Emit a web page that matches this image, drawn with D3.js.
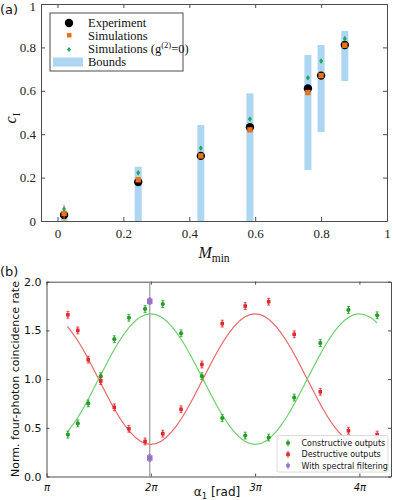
<!DOCTYPE html>
<html><head><meta charset="utf-8">
<script src="https://cdn.jsdelivr.net/npm/d3@7"></script>
<style>html,body{margin:0;padding:0;background:#fff;}svg{display:block;}</style>
</head><body>
<svg id="c" width="393" height="500"></svg>
<script>
// ---------- Panel (a) data ----------
const mMin = [0.02, 0.245, 0.435, 0.584, 0.76, 0.80, 0.872];
const experiment = [0.028, 0.18, 0.30, 0.432, 0.611, 0.67, 0.811];
const experimentErr = [0.012, 0.012, 0.012, 0.012, 0.012, 0.012, 0.012];
const simulations = [0.035, 0.19, 0.30, 0.42, 0.592, 0.67, 0.81];
const simulationsErr = [0.04, 0.01, 0.01, 0.01, 0.01, 0.01, 0.01];
const simulationsG0 = [0.055, 0.222, 0.336, 0.47, 0.66, 0.737, 0.84];
const simulationsG0Err = [0.01, 0.01, 0.01, 0.01, 0.01, 0.01, 0.01];
const boundLow = [0, 0, 0, 0, 0.235, 0.41, 0.645];
const boundHigh = [0.04, 0.25, 0.442, 0.588, 0.765, 0.811, 0.876];
const aXTicks = [0, 0.2, 0.4, 0.6, 0.8, 1];
const aYTicks = [0, 0.2, 0.4, 0.6, 0.8, 1];

// ---------- Panel (b) data (alpha in units of pi) ----------
const alphaPts = [1.205, 1.30, 1.40, 1.52, 1.65, 1.79, 1.945, 2.115, 2.29, 2.49, 2.685, 2.905, 3.13, 3.375, 3.625, 3.895, 4.17];
const constructive = [0.43, 0.545, 0.75, 1.03, 1.41, 1.63, 1.72, 1.77, 1.47, 1.03, 0.60, 0.42, 0.40, 0.81, 1.37, 1.71, 1.655];
const destructive = [1.66, 1.50, 1.20, 0.98, 0.71, 0.49, 0.36, 0.44, 0.69, 1.15, 1.57, 1.75, 1.795, 1.46, 0.87, 0.47, 0.43];
const ptErr = 0.035;
const filteredAlpha = [1.99, 1.99];
const filtered = [1.80, 0.19];
const fitAlpha = [1.2,1.3,1.4,1.5,1.6,1.7,1.8,1.9,2.0,2.1,2.2,2.3,2.4,2.5,2.6,2.7,2.8,2.9,3.0,3.1,3.2,3.3,3.4,3.5,3.6,3.7,3.8,3.9,4.0,4.1,4.17];
const fitConstructive = [0.458,0.606,0.793,1.000,1.207,1.394,1.542,1.637,1.670,1.637,1.542,1.394,1.207,1.000,0.793,0.606,0.458,0.363,0.330,0.363,0.458,0.606,0.793,1.000,1.207,1.394,1.542,1.637,1.670,1.637,1.577];
const fitDestructive = [1.542,1.394,1.207,1.000,0.793,0.606,0.458,0.363,0.330,0.363,0.458,0.606,0.793,1.000,1.207,1.394,1.542,1.637,1.670,1.637,1.542,1.394,1.207,1.000,0.793,0.606,0.458,0.363,0.330,0.363,0.423];
const bXTicks = [1, 2, 3, 4];
const bXTickLabels = ["π", "2π", "3π", "4π"];
const bYTicks = [0, 0.5, 1.0, 1.5, 2.0];

const svg = d3.select("#c");
const SERIF = "'Liberation Serif', 'Times New Roman', serif";
const SANS = "'DejaVu Sans', sans-serif";

// ================= Panel (a) =================
const xA = d3.scaleLinear().domain([-0.05, 1]).range([41, 387]);
const yA = d3.scaleLinear().domain([0, 1]).range([221, 4]);
const gA = svg.append("g");
const axisColA = "#4d4d4d";

function styleAxisA(g, labels) {
  g.select(".domain").attr("stroke", axisColA).attr("stroke-width", 1);
  g.selectAll(".tick line").attr("stroke", axisColA);
  g.selectAll(".tick text").attr("font-family", SERIF).attr("font-size", 13).attr("fill", "#222");
  if (!labels) g.selectAll(".tick text").remove();
}
gA.append("g").attr("transform", "translate(0,221)")
  .call(d3.axisBottom(xA).tickValues(aXTicks).tickFormat(d3.format("~g")).tickSizeInner(-4).tickSizeOuter(0).tickPadding(8))
  .call(g => styleAxisA(g, true));
gA.append("g").attr("transform", "translate(0,4)")
  .call(d3.axisTop(xA).tickValues(aXTicks).tickSizeInner(-4).tickSizeOuter(0))
  .call(g => styleAxisA(g, false));
gA.append("g").attr("transform", "translate(41,0)")
  .call(d3.axisLeft(yA).tickValues(aYTicks).tickFormat(d3.format("~g")).tickSizeInner(-4).tickSizeOuter(0).tickPadding(5))
  .call(g => styleAxisA(g, true))
  .call(g => g.selectAll(".tick text").filter(d => d === 1).attr("y", 2.5));
gA.append("g").attr("transform", "translate(387,0)")
  .call(d3.axisRight(yA).tickValues(aYTicks).tickSizeInner(-4).tickSizeOuter(0))
  .call(g => styleAxisA(g, false));

const dataA = mMin.map((m, i) => ({m, e: experiment[i], ee: experimentErr[i], s: simulations[i], se: simulationsErr[i], g: simulationsG0[i], ge: simulationsG0Err[i], lo: boundLow[i], hi: boundHigh[i]}));
const blue = "#acd6f2", orange = "#e8731c", greenA = "#21a85a";
const barW = 7;
gA.append("g").selectAll("rect").data(dataA).join("rect")
  .attr("x", d => xA(d.m) - barW / 2).attr("width", barW)
  .attr("y", d => yA(d.hi)).attr("height", d => Math.max(yA(d.lo) - yA(d.hi), 0))
  .attr("fill", blue);

function errBars(g, data, xf, yv, ev, col, w) {
  g.append("g").selectAll("line").data(data).join("line")
    .attr("x1", d => xf(d)).attr("x2", d => xf(d))
    .attr("y1", d => yA(yv(d) - ev(d))).attr("y2", d => yA(yv(d) + ev(d)))
    .attr("stroke", col).attr("stroke-width", w);
}
errBars(gA, dataA, d => xA(d.m), d => d.e, d => d.ee, "#000", 1);
gA.append("g").selectAll("circle").data(dataA).join("circle")
  .attr("cx", d => xA(d.m)).attr("cy", d => yA(d.e)).attr("r", 4.2).attr("fill", "#000");
errBars(gA, dataA, d => xA(d.m), d => d.s, d => d.se, orange, 1);
gA.append("g").selectAll("rect").data(dataA).join("rect")
  .attr("x", d => xA(d.m) - 2.7).attr("y", d => yA(d.s) - 2.7).attr("width", 5.4).attr("height", 5.4).attr("fill", orange);
errBars(gA, dataA, d => xA(d.m), d => d.g, d => d.ge, greenA, 1);
gA.append("g").selectAll("path").data(dataA).join("path")
  .attr("d", d => { const x = xA(d.m), y = yA(d.g); return `M${x},${y-2.6}L${x+2},${y}L${x},${y+2.6}L${x-2},${y}Z`; })
  .attr("fill", greenA);

// Legend (a)
const lgA = gA.append("g");
lgA.append("rect").attr("x", 50).attr("y", 13).attr("width", 133).attr("height", 58)
  .attr("fill", "#fff").attr("stroke", axisColA).attr("stroke-width", 1);
lgA.append("circle").attr("cx", 69).attr("cy", 23).attr("r", 4.2).attr("fill", "#000");
lgA.append("rect").attr("x", 67).attr("y", 33).attr("width", 4.5).attr("height", 4.5).attr("fill", orange);
lgA.append("path").attr("d", "M69,47L71,49.5L69,52L67,49.5Z").attr("fill", greenA);
lgA.append("rect").attr("x", 53).attr("y", 57.5).attr("width", 30).attr("height", 9).attr("fill", blue);
const lgTxt = (y) => lgA.append("text").attr("x", 88).attr("y", y).attr("font-family", SERIF).attr("font-size", 12.5).attr("fill", "#111");
lgTxt(27).text("Experiment");
lgTxt(39.5).text("Simulations");
{
  const t = lgTxt(53);
  t.append("tspan").text("Simulations (g");
  t.append("tspan").attr("font-size", 8.5).attr("dy", -5).text("(2)");
  t.append("tspan").attr("dy", 5).text("=0)");
}
lgTxt(66).text("Bounds");

// Axis labels (a)
{
  const t = gA.append("text").attr("transform", "translate(16,118) rotate(-90)")
    .attr("text-anchor", "middle").attr("font-family", SERIF).attr("fill", "#111");
  t.append("tspan").attr("font-style", "italic").attr("font-size", 16).text("c");
  t.append("tspan").attr("font-size", 11).attr("dy", 4).text("I");
}
{
  const t = gA.append("text").attr("x", 214).attr("y", 258)
    .attr("text-anchor", "middle").attr("font-family", SERIF).attr("fill", "#111");
  t.append("tspan").attr("font-style", "italic").attr("font-size", 16).text("M");
  t.append("tspan").attr("font-size", 11.5).attr("dy", 4).text("min");
}
svg.append("text").attr("x", 0).attr("y", 14).attr("font-family", SANS).attr("font-size", 13).attr("fill", "#111").text("(a)");

// ================= Panel (b) =================
const xB = d3.scaleLinear().domain([1, 4.303]).range([46.5, 391]);
const yB = d3.scaleLinear().domain([0, 2]).range([476.5, 281.7]);
const gB = svg.append("g");
const spineCol = "#3a3a3a";
function styleAxisB(g, labels) {
  g.select(".domain").attr("stroke", spineCol).attr("stroke-width", 0.9);
  g.selectAll(".tick line").attr("stroke", spineCol).attr("stroke-width", 0.9);
  g.selectAll(".tick text").attr("font-family", SANS).attr("font-size", 11).attr("fill", "#111");
  if (!labels) g.selectAll(".tick text").remove();
}
gB.append("g").attr("transform", "translate(0,476.5)")
  .call(d3.axisBottom(xB).tickValues(bXTicks).tickFormat((d, i) => bXTickLabels[i]).tickSizeInner(-3).tickSizeOuter(0).tickPadding(7))
  .call(g => styleAxisB(g, true))
  .call(g => g.selectAll(".tick text").attr("font-size", 10).attr("font-style", "italic"));
gB.append("g").attr("transform", "translate(0,281.7)")
  .call(d3.axisTop(xB).tickValues(bXTicks).tickSizeInner(-3).tickSizeOuter(0))
  .call(g => styleAxisB(g, false));
gB.append("g").attr("transform", "translate(46.5,0)")
  .call(d3.axisLeft(yB).tickValues(bYTicks).tickFormat(d3.format(".1f")).tickSizeInner(-3).tickSizeOuter(0).tickPadding(5))
  .call(g => styleAxisB(g, true));
gB.append("g").attr("transform", "translate(391,0)")
  .call(d3.axisRight(yB).tickValues(bYTicks).tickSizeInner(-3).tickSizeOuter(0))
  .call(g => styleAxisB(g, false));

// vertical reference line
gB.append("line").attr("x1", xB(filteredAlpha[0])).attr("x2", xB(filteredAlpha[0]))
  .attr("y1", yB(0)).attr("y2", yB(2)).attr("stroke", "#9a9a9a").attr("stroke-width", 1.2);

const greenLine = "#6ccf6c", redLine = "#ee6666";
const greenPt = "#22a022", redPt = "#e0282e", purple = "#9a6fcf";
const line = (ys) => d3.line().x((d, i) => xB(fitAlpha[i])).y(d => yB(d)).curve(d3.curveNatural)(ys);
gB.append("path").attr("d", line(fitDestructive)).attr("fill", "none").attr("stroke", redLine).attr("stroke-width", 1.2);
gB.append("path").attr("d", line(fitConstructive)).attr("fill", "none").attr("stroke", greenLine).attr("stroke-width", 1.2);

function pointsB(xs, ys, col, shape) {
  const g = gB.append("g");
  const data = xs.map((x, i) => ({x, y: ys[i]}));
  g.selectAll("line.eb").data(data).join("line").attr("class", "eb")
    .attr("x1", d => xB(d.x)).attr("x2", d => xB(d.x))
    .attr("y1", d => yB(d.y - ptErr)).attr("y2", d => yB(d.y + ptErr))
    .attr("stroke", col).attr("stroke-width", 1);
  g.selectAll("line.cap").data(data.flatMap(d => [d.y - ptErr, d.y + ptErr].map(v => ({x: d.x, v})))).join("line").attr("class", "cap")
    .attr("x1", d => xB(d.x) - 1.5).attr("x2", d => xB(d.x) + 1.5)
    .attr("y1", d => yB(d.v)).attr("y2", d => yB(d.v)).attr("stroke", col).attr("stroke-width", 0.8);
  if (shape === "circle") {
    g.selectAll("circle").data(data).join("circle").attr("cx", d => xB(d.x)).attr("cy", d => yB(d.y)).attr("r", 2.1).attr("fill", col);
  } else {
    const s = shape === "big" ? 5.5 : 3.6;
    g.selectAll("rect").data(data).join("rect").attr("x", d => xB(d.x) - s / 2).attr("y", d => yB(d.y) - s / 2)
      .attr("width", s).attr("height", s).attr("fill", col);
  }
}
pointsB(alphaPts, constructive, greenPt, "circle");
pointsB(alphaPts, destructive, redPt, "square");
pointsB(filteredAlpha, filtered, purple, "big");

// Legend (b)
const lgB = gB.append("g");
lgB.append("rect").attr("x", 277).attr("y", 435.5).attr("width", 111).attr("height", 36.5).attr("rx", 2)
  .attr("fill", "#fff").attr("fill-opacity", 0.85).attr("stroke", "#d0d0d0").attr("stroke-width", 0.8);
const lgBItems = [["Constructive outputs", greenPt, "circle"], ["Destructive outputs", redPt, "square"], ["With spectral filtering", purple, "square"]];
lgBItems.forEach((it, i) => {
  const y = 443 + i * 11.3;
  lgB.append("line").attr("x1", 288).attr("x2", 288).attr("y1", y - 3.5).attr("y2", y + 3.5).attr("stroke", it[1]).attr("stroke-width", 1);
  if (it[2] === "circle") lgB.append("circle").attr("cx", 288).attr("cy", y).attr("r", 2.1).attr("fill", it[1]);
  else lgB.append("rect").attr("x", 286.2).attr("y", y - 1.8).attr("width", 3.6).attr("height", 3.6).attr("fill", it[1]);
  lgB.append("text").attr("x", 301.5).attr("y", y + 3).attr("font-family", SANS).attr("font-size", 8).attr("fill", "#111").text(it[0]);
});

// Axis labels (b)
gB.append("text").attr("transform", "translate(19,379) rotate(-90)").attr("text-anchor", "middle")
  .attr("font-family", SANS).attr("font-size", 11).attr("fill", "#111").text("Norm. four-photon coincidence rate");
{
  const t = gB.append("text").attr("x", 217).attr("y", 496).attr("text-anchor", "middle")
    .attr("font-family", SANS).attr("font-size", 12).attr("fill", "#111");
  t.append("tspan").text("α");
  t.append("tspan").attr("font-size", 8.5).attr("dy", 3).text("1");
  t.append("tspan").attr("dy", -3).text(" [rad]");
}
svg.append("text").attr("x", 0).attr("y", 276).attr("font-family", SANS).attr("font-size", 13).attr("fill", "#111").text("(b)");
</script>
</body></html>
